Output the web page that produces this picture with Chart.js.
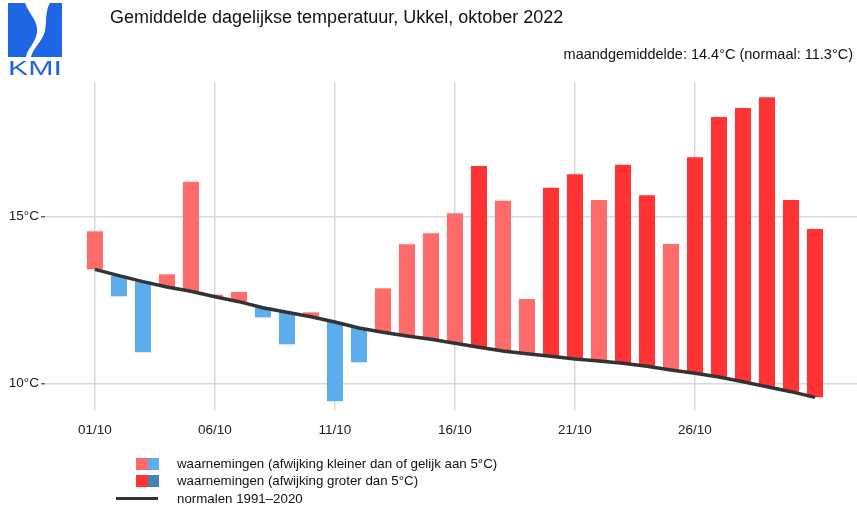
<!DOCTYPE html>
<html>
<head>
<meta charset="utf-8">
<script src="https://cdn.jsdelivr.net/npm/chart.js@4.4.0/dist/chart.umd.min.js"></script>
<style>
  html, body { margin: 0; padding: 0; background: #fff; }
  #wrap { position: relative; width: 857px; height: 510px; font-family: "Liberation Sans", Arial, sans-serif; color: #111; }
  #chart { position: absolute; left: 0; top: 0; }
  .txt { position: absolute; white-space: nowrap; line-height: 1; }
  .sw { position: absolute; }
</style>
</head>
<body>
<div id="wrap">
  <canvas id="chart" width="857" height="510"></canvas>

  <!-- logo KMI -->
  <svg style="position:absolute;left:0;top:0" width="70" height="80">
    <path d="M8,3 L25,3 C29,14 39,22 37,33 C35,44 27,49 26,57 L8,57 Z" fill="#1f66e5"/>
    <path d="M50,3 L62,3 L62,57 L31,57 C33,48 42,42 45,31 C47,20 45,11 50,3 Z" fill="#1f66e5"/>
    <text x="8" y="75" font-family="Liberation Sans, Arial" font-size="20" fill="#1f66e5" textLength="54" lengthAdjust="spacingAndGlyphs">KMI</text>
  </svg>

  <div class="txt" style="left:110px;top:8px;font-size:18px">Gemiddelde dagelijkse temperatuur, Ukkel, oktober 2022</div>
  <div class="txt" style="right:4px;top:47px;font-size:14.5px">maandgemiddelde: 14.4°C (normaal: 11.3°C)</div>

  <!-- legende -->
  <div class="sw" style="left:136px;top:458px;width:12px;height:12px;background:#ff6a6a"></div>
  <div class="sw" style="left:148px;top:458px;width:11px;height:12px;background:#5dadec"></div>
  <div class="sw" style="left:136px;top:475px;width:12px;height:12px;background:#ff3333"></div>
  <div class="sw" style="left:148px;top:475px;width:11px;height:12px;background:#4682b4"></div>
  <div class="sw" style="left:116px;top:497px;width:42px;height:3px;background:#333"></div>
  <div class="txt" style="left:177px;top:457px;font-size:13.3px">waarnemingen (afwijking kleiner dan of gelijk aan 5°C)</div>
  <div class="txt" style="left:177px;top:474px;font-size:13.3px">waarnemingen (afwijking groter dan 5°C)</div>
  <div class="txt" style="left:177px;top:492px;font-size:13.3px">normalen 1991–2020</div>
</div>

<script>
// dagen van oktober 2022
const days = [1, 2, 3, 4, 5, 6, 7, 8, 9, 10, 11, 12, 13, 14, 15, 16,
  17, 18, 19, 20, 21, 22, 23, 24, 25, 26, 27, 28, 29, 30, 31];

// gemiddelde dagtemperatuur (waarnemingen)
const observed = [14.56, 12.61, 10.93, 13.27, 16.05, 12.66, 12.74, 11.98, 11.17, 12.13,
  9.46, 10.63, 12.85, 14.17, 14.50, 15.10, 16.52, 15.48, 12.53, 15.87,
  16.27, 15.50, 16.56, 15.64, 14.18, 16.78, 17.99, 18.26, 18.58, 15.50, 14.63];

// normalen 1991-2020
const normals = [13.42, 13.23, 13.05, 12.89, 12.76, 12.60, 12.45, 12.27, 12.13, 12.00,
  11.84, 11.66, 11.53, 11.42, 11.32, 11.20, 11.08, 10.97, 10.89, 10.81,
  10.73, 10.67, 10.60, 10.51, 10.40, 10.30, 10.19, 10.05, 9.90, 9.75, 9.58];

const yTicks = [10, 15];
const xTicks = [1, 6, 11, 16, 21, 26];
const xTickLabels = ['01/10', '06/10', '11/10', '16/10', '21/10', '26/10'];

// kleur volgens afwijking
function barColor(i) {
  let dev = observed[i] - normals[i];
  if (dev >= 0) return Math.abs(dev) > 5 ? '#ff3333' : '#ff6a6a';
  return Math.abs(dev) > 5 ? '#4682b4' : '#5dadec';
}

let barData = days.map((d, i) => ({ x: d, y: [normals[i], observed[i]] }));
let lineData = days.map((d, i) => ({ x: d, y: normals[i] }));

let config = {
  type: 'bar',
  data: {
    datasets: [{
      type: 'line',
      label: 'normalen 1991-2020',
      data: lineData,
      borderColor: '#333333',
      borderWidth: 3.5,
      pointRadius: 0,
      tension: 0,
      order: 0
    }, {
      type: 'bar',
      label: 'waarnemingen',
      data: barData,
      backgroundColor: days.map((d, i) => barColor(i)),
      borderWidth: 0,
      barPercentage: 0.67,
      categoryPercentage: 1,
      order: 1
    }]
  },
  options: {
    responsive: false,
    animation: false,
    layout: { padding: { top: 82, left: 0, right: 0, bottom: 0 } },
    plugins: { legend: { display: false }, tooltip: { enabled: false } },
    scales: {
      x: {
        type: 'linear',
        min: -1.08,
        max: 32.75,
        offset: false,
        border: { display: false },
        grid: { offset: false, color: '#d9d9d9', lineWidth: 1.5, drawTicks: false },
        afterBuildTicks: s => { s.ticks = xTicks.map(v => ({ value: v })); },
        afterFit: s => { s.height = 100; },
        ticks: {
          padding: 12,
          color: '#222',
          font: { family: 'Liberation Sans, Arial', size: 13.5 },
          callback: v => xTickLabels[xTicks.indexOf(v)]
        }
      },
      y: {
        min: 9.2,
        max: 19.04,
        border: { display: false },
        grid: { color: '#d9d9d9', lineWidth: 1.5, tickLength: 4, tickColor: '#666' },
        afterBuildTicks: s => { s.ticks = yTicks.map(v => ({ value: v })); },
        afterFit: s => { s.width = 45; },
        ticks: {
          padding: 2,
          color: '#222',
          font: { family: 'Liberation Sans, Arial', size: 13.5 },
          callback: v => v + '°C'
        }
      }
    }
  }
};

var ctx = document.getElementById('chart');
window.chart = new Chart(ctx, config);
</script>
</body>
</html>
